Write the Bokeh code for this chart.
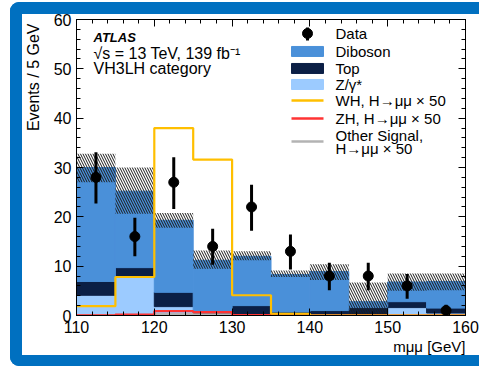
import numpy as np
from bokeh.plotting import figure
from bokeh.models import FixedTicker, LinearAxis, Label, Title, CustomLabelingPolicy
from bokeh.embed import file_html
from bokeh.resources import INLINE

# ---------------- data ----------------
edges = [110, 115, 120, 125, 130, 135, 140, 145, 150, 155, 160]
z_gamma = [4.1, 7.8, 1.8, 0.3, 0.1, 0.1, 0.1, 0.1, 1.6, 0.5]
top_bkg = [2.8, 1.9, 2.9, 0.5, 1.9, 0.6, 0.9, 1.5, 1.2, 1.0]
diboson = [23.1, 15.5, 14.6, 10.4, 10.0, 7.6, 7.9, 1.2, 4.0, 5.4]
unc_lo = [27.0, 20.6, 17.8, 9.5, 11.2, 7.8, 7.2, 0.0, 5.0, 5.1]
unc_hi = [32.8, 30.0, 20.8, 13.2, 13.0, 9.1, 10.4, 6.7, 8.5, 8.5]
wh_x50 = [1.9, 7.8, 38.0, 31.6, 4.1, 0.35, 0.0, 0.0, 0.0, 0.0]
zh_x50 = [0.05, 0.2, 0.9, 0.7, 0.1, 0.05, 0.0, 0.0, 0.0, 0.0]
other_x50 = [0.05, 0.1, 0.3, 0.25, 0.1, 0.05, 0.0, 0.0, 0.0, 0.0]
data_val = [28, 16, 27, 14, 22, 13, 8, 8, 6, 1]
data_hi = [33.1, 19.8, 32.1, 17.6, 26.5, 16.4, 10.7, 10.7, 8.4, 2.2]
data_lo = [22.7, 12.0, 21.6, 10.3, 17.2, 9.3, 5.1, 5.1, 3.4, 0.4]
x_ticks = [110, 120, 130, 140, 150, 160]
y_ticks = [0, 10, 20, 30, 40, 50, 60]

# ---------------- styles ----------------
FONT = "Liberation Sans"
C_DIB = "#4a90d9"
C_TOP = "#0b1f45"
C_Z = "#9ccbff"
C_WH = "#ffbf00"
C_ZH = "#ff3333"
C_OTH = "#b3b3b3"
C_FRAME = "#0070c0"

e = np.array(edges, dtype=float)
left, right = e[:-1], e[1:]
centers = (left + right) / 2
s1 = np.array(z_gamma)
s2 = s1 + np.array(top_bkg)
s3 = s2 + np.array(diboson)

frame_css = {
    "background-color": "white",
    "border-radius": "9px 0px 0px 9px",
    "box-shadow": (f"inset 12px 0px 0px 0px {C_FRAME}, "
                   f"inset 0px 12px 0px 0px {C_FRAME}, "
                   f"inset 0px -11px 0px 0px {C_FRAME}"),
}

p = figure(width=469, height=364, x_range=(110, 160), y_range=(0, 60),
           output_backend="svg", toolbar_location=None,
           min_border_left=66, min_border_right=14, min_border_top=17,
           min_border_bottom=51, border_fill_alpha=0,
           background_fill_color="white", outline_line_color="black",
           margin=(2, 0, 0, 10), styles=frame_css)
p.xaxis.visible = False
p.yaxis.visible = False
p.grid.visible = False

xt = FixedTicker(ticks=x_ticks, minor_ticks=list(range(110, 161, 2)))
yt = FixedTicker(ticks=y_ticks, minor_ticks=list(range(0, 61, 2)))
no_labels = CustomLabelingPolicy(code="for (const i of indices) { if (i < 0) { yield i } }")


def style_axis(ax, labels=True):
    ax.major_tick_in = 7
    ax.major_tick_out = 0
    ax.minor_tick_in = 4
    ax.minor_tick_out = 0
    ax.axis_line_color = "black"
    ax.major_tick_line_color = "black"
    ax.minor_tick_line_color = "black"
    ax.major_label_text_font = FONT
    ax.major_label_text_font_size = "16px"
    ax.major_label_text_color = "black"
    ax.major_label_standoff = 5
    if not labels:
        ax.major_label_policy = no_labels
        ax.major_label_text_font_size = "1px"
        ax.major_label_standoff = 0


ax_b = LinearAxis(ticker=xt)
style_axis(ax_b)
ax_l = LinearAxis(ticker=yt)
style_axis(ax_l)
ax_t = LinearAxis(ticker=xt)
style_axis(ax_t, labels=False)
ax_r = LinearAxis(ticker=yt)
style_axis(ax_r, labels=False)
p.add_layout(ax_b, "below")
p.add_layout(ax_l, "left")
p.add_layout(ax_t, "above")
p.add_layout(ax_r, "right")

# axis titles
p.add_layout(Title(text="Events / 5 GeV", align="right", text_font=FONT,
                   text_font_size="16px", text_font_style="normal",
                   text_color="black", standoff=18, offset=4), "left")
p.add_layout(Title(text="m\u03bc\u03bc [GeV]", align="right", text_font=FONT,
                   text_font_size="15px", text_font_style="normal",
                   text_color="black", standoff=0), "below")

# stacked backgrounds
p.quad(left=left, right=right, bottom=0, top=s1, fill_color=C_Z, line_color=C_Z)
p.quad(left=left, right=right, bottom=s1, top=s2, fill_color=C_TOP, line_color=C_TOP)
p.quad(left=left, right=right, bottom=s2, top=s3, fill_color=C_DIB, line_color=C_DIB)
# uncertainty hatch
p.quad(left=left, right=right, bottom=unc_lo, top=unc_hi, fill_alpha=0,
       line_color=None, hatch_pattern="\\", hatch_color="#1a1a1a",
       hatch_weight=1, hatch_scale=5)

# signals (x50)
for vals, col in ((other_x50, C_OTH), (zh_x50, C_ZH), (wh_x50, C_WH)):
    p.step(x=edges, y=list(vals) + [vals[-1]], mode="after",
           line_color=col, line_width=2.2)

# data
p.segment(x0=centers, y0=data_lo, x1=centers, y1=data_hi,
          line_color="black", line_width=3)
p.scatter(x=centers, y=data_val, size=10, color="black")


# ---------- layout helpers (pixel -> data) ----------
def X(px):
    return 110 + (px - 76) / 7.78


def Y(py):
    return (315 - py) / 4.933


def label(px, py, text, size="15px", style="normal", align="left",
          baseline="middle"):
    p.add_layout(Label(x=X(px), y=Y(py), text=text, text_font=FONT,
                       text_font_size=size, text_font_style=style,
                       text_align=align, text_baseline=baseline,
                       text_color="black"))


# annotation text
label(93, 37, "ATLAS", size="13px", style="bold italic")
label(93, 53, "\u221as = 13 TeV, 139 fb\u207b\u00b9", size="16px")
label(93, 68, "VH3LH category", size="16px")

# legend
LX0, LX1, LT = 291, 323, 335
p.segment(x0=[X(307)], y0=[Y(27)], x1=[X(307)], y1=[Y(40)],
          line_color="black", line_width=3)
p.scatter(x=[X(307)], y=[Y(33)], size=10, color="black")
label(LT, 33, "Data", size="15px")
for row, col, txt in ((51, C_DIB, "Diboson"), (68, C_TOP, "Top"),
                      (84, C_Z, "Z/\u03b3*")):
    p.quad(left=[X(LX0)], right=[X(LX1)], top=[Y(row - 5)], bottom=[Y(row + 5)],
           fill_color=col, line_color=col)
    label(LT, row, txt, size="15px")
for row, col in ((100, C_WH), (118, C_ZH), (141, C_OTH)):
    p.segment(x0=[X(LX0)], y0=[Y(row)], x1=[X(LX1)], y1=[Y(row)],
              line_color=col, line_width=2.5)
label(LT, 100, "WH, H\u2192\u03bc\u03bc \u00d7 50", size="15px")
label(LT, 118, "ZH, H\u2192\u03bc\u03bc \u00d7 50", size="15px")
label(LT, 135, "Other Signal,", size="15px")
label(LT, 148, "H\u2192\u03bc\u03bc \u00d7 50", size="15px")

open("out.html", "w").write(file_html(p, INLINE))
